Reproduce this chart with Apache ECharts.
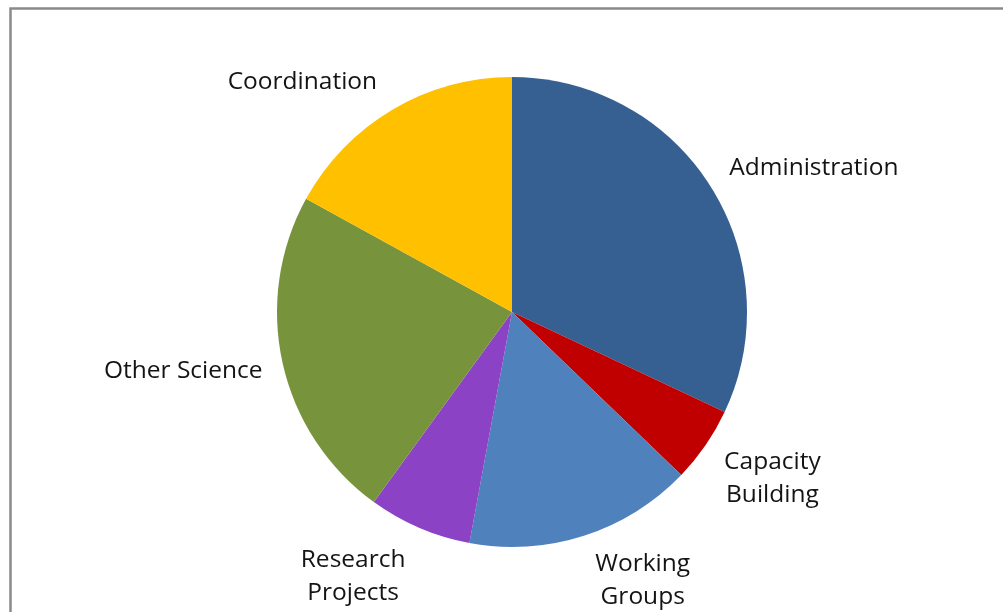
<!DOCTYPE html>
<html>
<head>
<meta charset="utf-8">
<script src="https://cdn.jsdelivr.net/npm/echarts@6/dist/echarts.min.js"></script>
<style>
  html, body { margin: 0; padding: 0; background: #ffffff; }
  #chart { width: 1003px; height: 612px; }
</style>
</head>
<body>
<div id="chart"></div>
<script>
// ---- Data ----
const categories = ['Administration', 'Capacity\nBuilding', 'Working\nGroups', 'Research\nProjects', 'Other Science', 'Coordination'];
const values = [32.0, 5.2, 15.7, 7.1, 23.0, 17.0];
const colors = ['#376092', '#C00000', '#4F81BD', '#8B42C4', '#77933C', '#FFC000'];

// label placement tweaks (radial length, horizontal length) per slice
const labelLen = [33, 59, 47, 53, 36, 32];
const labelLen2 = [-14, -35, -8, -12, -20, -6];

const chart = echarts.init(document.getElementById('chart'), null, { renderer: 'canvas' });

const seriesData = categories.map((name, i) => ({
  name: name,
  value: values[i],
  itemStyle: { color: colors[i] },
  labelLine: { show: false, length: labelLen[i], length2: labelLen2[i] }
}));

chart.setOption({
  animation: false,
  backgroundColor: '#ffffff',
  graphic: [{
    type: 'rect',
    shape: { x: 10.5, y: 8.5, width: 1010, height: 620 },
    style: { fill: 'none', stroke: '#8a8a8a', lineWidth: 2.5 },
    silent: true
  }],
  series: [{
    type: 'pie',
    center: [512, 312],
    radius: 235,
    startAngle: 90,
    clockwise: true,
    avoidLabelOverlap: false,
    minShowLabelAngle: 0,
    itemStyle: { borderWidth: 0 },
    emphasis: { disabled: true },
    label: {
      show: true,
      position: 'outside',
      color: '#141414',
      fontFamily: 'Open Sans',
      fontSize: 24.5,
      lineHeight: 33,
      distanceToLabelLine: 5
    },
    labelLine: { show: false },
    // keep each label block where the pie layout put it, but centre its lines
    labelLayout: function (params) {
      const r = params.labelRect;
      return {
        x: r.x + r.width / 2,
        y: r.y + r.height / 2,
        align: 'center',
        verticalAlign: 'middle'
      };
    },
    data: seriesData
  }]
});
</script>
</body>
</html>
